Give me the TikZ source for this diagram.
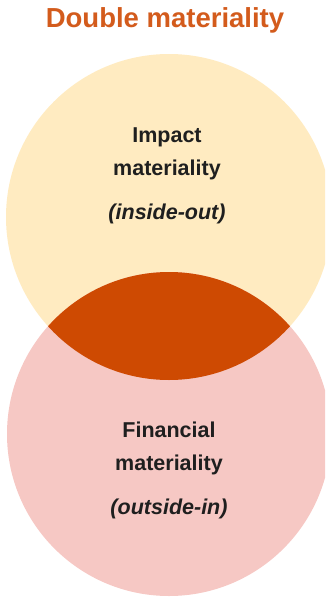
\documentclass[tikz,border=0pt]{standalone}
\usepackage{fontspec}
\setmainfont{Liberation Sans}
\definecolor{impactyellow}{RGB}{255, 235, 193}
\definecolor{financepink}{RGB}{246, 200, 196}
\definecolor{overlaporange}{RGB}{206, 74, 2}
\definecolor{titleorange}{RGB}{211, 91, 28}
\usetikzlibrary{positioning}

\begin{document}
\begin{tikzpicture}[x=1pt, y=1pt,
  circlabel/.style={font=\fontsize{21.5}{33}\selectfont\bfseries, align=center, text=black!88}]
  \useasboundingbox (0,0) rectangle (325,-599);
  \clip (0,0) rectangle (325,-599);

  % Circles
  \node[circle, fill=impactyellow, minimum size=326pt, inner sep=0pt] (impact) at (169,-217) {};
  \node[circle, fill=financepink, minimum size=324pt, inner sep=0pt] (financial) at (169,-434) {};

  % Overlap of the two
  \begin{scope}
    \clip (impact.center) circle (163);
    \fill[overlaporange] (financial.center) circle (162);
  \end{scope}

  % Title
  \node[font=\fontsize{27.5}{30}\selectfont\bfseries, text=titleorange] (title) at (165,-20) {Double materiality};

  % Labels
  \node[circlabel] (impactlabel) at (167,-176) {Impact\\materiality\\[11pt]\textit{(inside-out)}};
  \node[circlabel] (financiallabel) at (169,-470) {Financial\\materiality\\[11pt]\textit{(outside-in)}};
\end{tikzpicture}
\end{document}
